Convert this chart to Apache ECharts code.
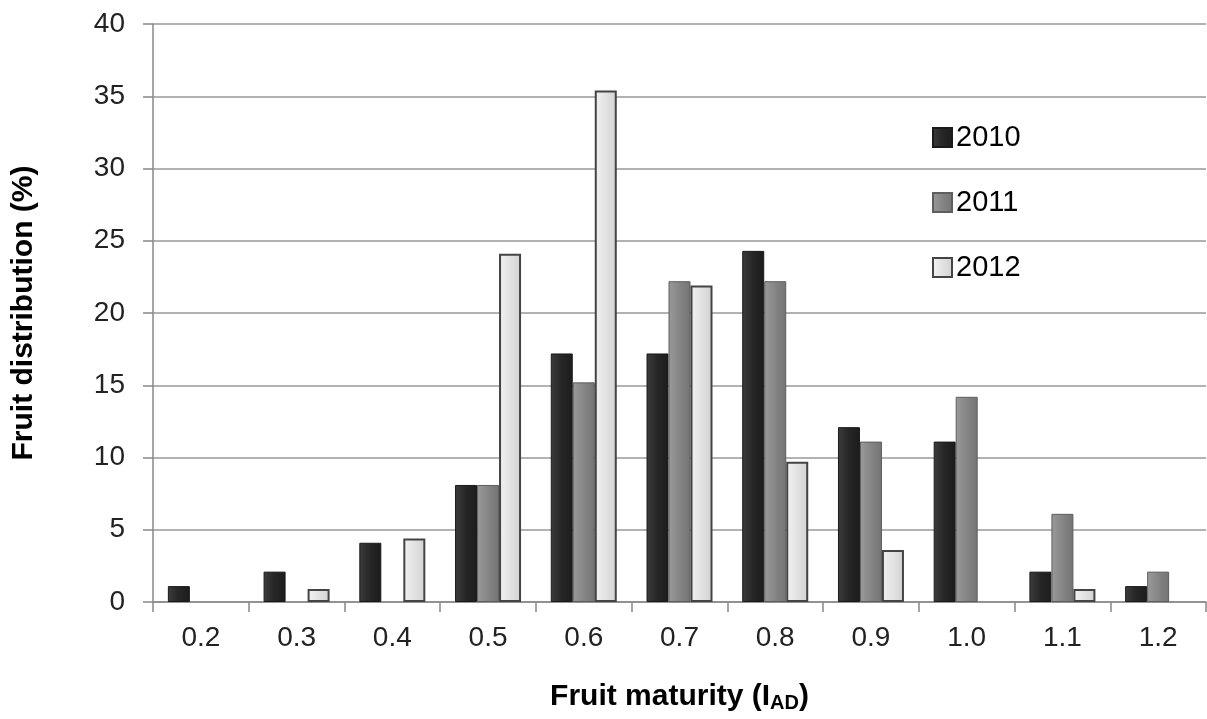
<!DOCTYPE html>
<html>
<head>
<meta charset="utf-8">
<script src="https://cdn.jsdelivr.net/npm/echarts@6/dist/echarts.min.js"></script>
<style>
html,body{margin:0;padding:0;background:#fff;}
#chart{width:1207px;height:719px;}
</style>
</head>
<body>
<div id="chart"></div>
<script>
const categories = ['0.2','0.3','0.4','0.5','0.6','0.7','0.8','0.9','1.0','1.1','1.2'];
const seriesNames = ['2010','2011','2012'];
const values2010 = [1.1, 2.1, 4.1, 8.1, 17.2, 17.2, 24.3, 12.1, 11.1, 2.1, 1.1];
const values2011 = [null, null, null, 8.1, 15.2, 22.2, 22.2, 11.1, 14.2, 6.1, 2.1];
const values2012 = [null, 0.9, 4.4, 24.1, 35.4, 21.9, 9.7, 3.6, null, 0.9, null];
const yTicks = { min: 0, max: 40, interval: 5 };

function grad(c1, c2, c3) {
  return new echarts.graphic.LinearGradient(0, 0, 1, 0, [
    { offset: 0, color: c1 }, { offset: 0.5, color: c2 }, { offset: 1, color: c3 }
  ]);
}
const styles = [
  { color: grad('#3c3c3c', '#262626', '#1c1c1c'), borderColor: '#1a1a1a', borderWidth: 1 },
  { color: grad('#9a9a9a', '#858585', '#747474'), borderColor: '#5e5e5e', borderWidth: 1 },
  { color: grad('#f2f2f2', '#e2e2e2', '#d2d2d2'), borderColor: '#444444', borderWidth: 2 }
];
const data = [values2010, values2011, values2012];
const FONT = 'Liberation Sans, Arial, sans-serif';

const chart = echarts.init(document.getElementById('chart'), null, { renderer: 'canvas' });
chart.setOption({
  backgroundColor: '#ffffff',
  animation: false,
  textStyle: { fontFamily: FONT },
  grid: { left: 153, right: 1, top: 24, bottom: 117, containLabel: false },
  legend: {
    orient: 'vertical',
    left: 927,
    top: 118,
    itemGap: 36,
    itemWidth: 19,
    itemHeight: 19,
    icon: 'rect',
    textStyle: { fontSize: 29, color: '#000', lineHeight: 29, padding: [0, 0, 0, -1] },
    data: seriesNames
  },
  xAxis: {
    type: 'category',
    data: categories,
    boundaryGap: true,
    axisLine: { show: true, lineStyle: { color: '#888', width: 1.5 } },
    axisTick: { show: true, length: 10, alignWithLabel: false, lineStyle: { color: '#888', width: 1.5 } },
    axisLabel: { fontSize: 28, color: '#222', margin: 22 },
    splitLine: { show: false },
    name: '{a|Fruit maturity (I}{b|AD}{a|)}',
    nameLocation: 'middle',
    nameGap: 79,
    nameTextStyle: {
      rich: {
        a: { fontSize: 30, fontWeight: 'bold', color: '#000', fontFamily: FONT },
        b: { fontSize: 20, fontWeight: 'bold', color: '#000', verticalAlign: 'bottom', padding: [12, 0, 0, 0], fontFamily: FONT }
      }
    }
  },
  yAxis: {
    type: 'value',
    min: yTicks.min,
    max: yTicks.max,
    interval: yTicks.interval,
    axisLine: { show: true, lineStyle: { color: '#888', width: 1.5 } },
    axisTick: { show: true, length: 10, lineStyle: { color: '#888', width: 1.5 } },
    axisLabel: { fontSize: 28, color: '#222', margin: 28 },
    splitLine: { show: true, lineStyle: { color: '#999', width: 1.5 } },
    name: 'Fruit distribution (%)',
    nameLocation: 'middle',
    nameGap: 114,
    nameTextStyle: { fontSize: 30, fontWeight: 'bold', color: '#000' }
  },
  series: seriesNames.map((n, i) => ({
    name: n,
    type: 'bar',
    data: data[i],
    barWidth: 22,
    barGap: '0%',
    itemStyle: styles[i]
  }))
});
</script>
</body>
</html>
